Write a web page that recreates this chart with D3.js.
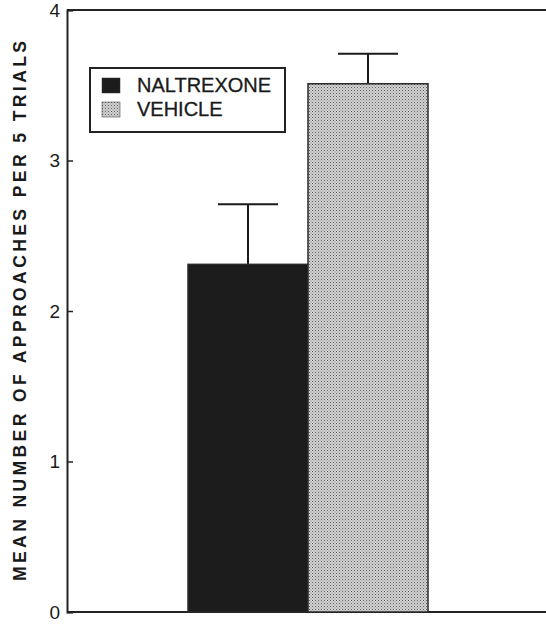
<!DOCTYPE html>
<html>
<head>
<meta charset="utf-8">
<script src="https://cdn.jsdelivr.net/npm/d3@7"></script>
<style>
  body { margin: 0; background: #fff; }
  text { font-family: "Liberation Sans", Arial, sans-serif; fill: #1a1a1a; }
</style>
</head>
<body>
<svg id="chart" width="546" height="627"></svg>
<script>
// data
const groups = ['NALTREXONE', 'VEHICLE'];
const means = [2.31, 3.51];
const sems = [0.40, 0.20];
const yTicks = [0, 1, 2, 3, 4];

const svg = d3.select('#chart');
const margin = {left: 67, top: 10, right: 0, bottom: 15};
const W = 546, H = 627;

// pattern for the vehicle bar
const defs = svg.append('defs');
const pat = defs.append('pattern')
    .attr('id', 'dots').attr('patternUnits', 'userSpaceOnUse')
    .attr('width', 3).attr('height', 3);
pat.append('rect').attr('width', 3).attr('height', 3).attr('fill', '#d2d2d2');
pat.append('rect').attr('x', 0).attr('y', 0).attr('width', 1).attr('height', 1).attr('fill', '#5e5e5e');
pat.append('rect').attr('x', 1.5).attr('y', 1.5).attr('width', 1).attr('height', 1).attr('fill', '#858585');

const fills = ['#1c1c1c', 'url(#dots)'];

const x = d3.scaleBand().domain(groups).range([188, 428]).padding(0);
const y = d3.scaleLinear().domain([0, 4]).range([H - margin.bottom, margin.top]);

// axis
const yAxis = d3.axisLeft(y).tickValues(yTicks).tickSize(-6).tickPadding(7).tickFormat(d3.format('d'));
const ga = svg.append('g').attr('transform', `translate(${margin.left},0)`).call(yAxis);
ga.select('.domain').attr('stroke', '#222').attr('stroke-width', 2);
ga.selectAll('.tick line').attr('stroke', '#222').attr('stroke-width', 1.5);
ga.selectAll('.tick text').attr('font-size', 19).style('font-family', '"Liberation Sans", Arial, sans-serif').attr('fill', '#1a1a1a');

// top and bottom frame lines
svg.append('line').attr('x1', margin.left).attr('x2', W).attr('y1', y(4)).attr('y2', y(4))
    .attr('stroke', '#222').attr('stroke-width', 2);
svg.append('line').attr('x1', margin.left).attr('x2', W).attr('y1', y(0)).attr('y2', y(0))
    .attr('stroke', '#222').attr('stroke-width', 2);

// error bars
const eb = svg.append('g');
groups.forEach(function(g, i){
    const cx = x(g) + x.bandwidth() / 2;
    eb.append('line').attr('x1', cx).attr('x2', cx).attr('y1', y(means[i])).attr('y2', y(means[i] + sems[i]))
        .attr('stroke', '#1a1a1a').attr('stroke-width', 2);
    eb.append('line').attr('x1', cx - 30).attr('x2', cx + 30).attr('y1', y(means[i] + sems[i])).attr('y2', y(means[i] + sems[i]))
        .attr('stroke', '#1a1a1a').attr('stroke-width', 2);
});

// bars
svg.append('g').selectAll('rect').data(groups).join('rect')
    .attr('x', d => x(d)).attr('width', x.bandwidth())
    .attr('y', (d, i) => y(means[i])).attr('height', (d, i) => y(0) - y(means[i]))
    .attr('fill', (d, i) => fills[i])
    .attr('stroke', '#2a2a2a').attr('stroke-width', 1.5);

// legend
const lg = svg.append('g');
lg.append('rect').attr('x', 90).attr('y', 68).attr('width', 195).attr('height', 64)
    .attr('fill', '#fff').attr('stroke', '#222').attr('stroke-width', 2);
groups.forEach(function(g, i){
    lg.append('rect').attr('x', 102).attr('y', 78 + i * 24).attr('width', 18).attr('height', 15)
        .attr('fill', fills[i]).attr('stroke', '#333').attr('stroke-width', 0.5);
    lg.append('text').attr('x', 137).attr('y', 92 + i * 24).attr('font-size', 20)
        .attr('stroke', '#1a1a1a').attr('stroke-width', 0.3).text(g);
});

// y axis title
svg.append('text')
    .attr('transform', 'translate(26,311) rotate(-90)')
    .attr('text-anchor', 'middle')
    .attr('font-size', 17.5).attr('font-weight', 'bold')
    .attr('textLength', 540).attr('lengthAdjust', 'spacing')
    .text('MEAN NUMBER OF APPROACHES PER 5 TRIALS');
</script>
</body>
</html>
